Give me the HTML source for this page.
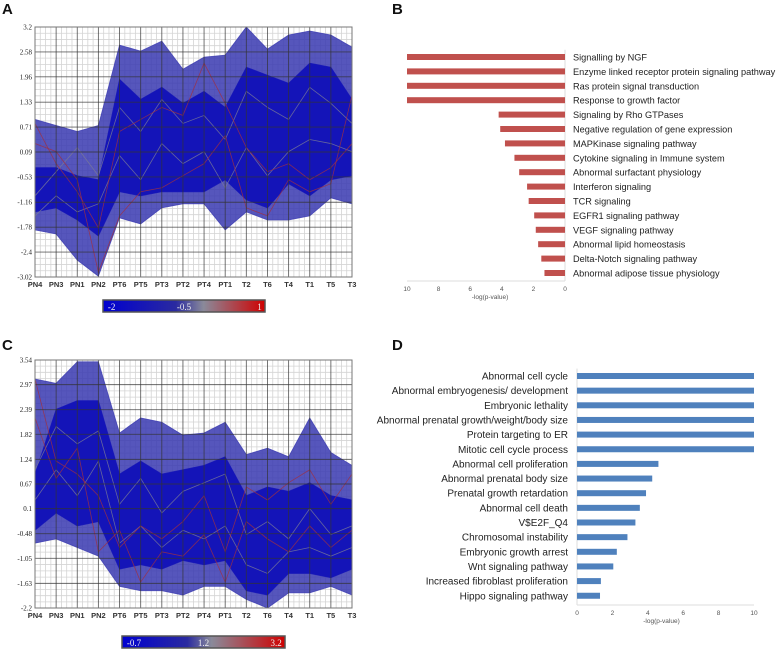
<!DOCTYPE html>
<html><head><meta charset="utf-8">
<style>
html,body{margin:0;padding:0;background:#fff;}
svg{display:block;font-family:"Liberation Sans",Arial,sans-serif;}
</style></head>
<body>
<svg id="fig" width="778" height="650" viewBox="0 0 778 650" xmlns="http://www.w3.org/2000/svg">
<defs>
<linearGradient id="cbA" x1="0" x2="1" y1="0" y2="0"><stop offset="0" stop-color="#0000d0"/><stop offset="0.45" stop-color="#2a2aa0"/><stop offset="0.62" stop-color="#8a8a9a"/><stop offset="1" stop-color="#d00000"/></linearGradient>
<linearGradient id="cbC" x1="0" x2="1" y1="0" y2="0"><stop offset="0" stop-color="#0000d0"/><stop offset="0.4" stop-color="#2a2aa0"/><stop offset="0.55" stop-color="#8a8a9a"/><stop offset="1" stop-color="#d00000"/></linearGradient>
</defs>
<text x="2" y="14" font-size="15" font-weight="bold" fill="#111">A</text>
<text x="392" y="14" font-size="15" font-weight="bold" fill="#111">B</text>
<text x="2" y="350" font-size="15" font-weight="bold" fill="#111">C</text>
<text x="392" y="350" font-size="15" font-weight="bold" fill="#111">D</text>
<g id="pA"></g>
<g id="pB"></g>
<g id="pC"></g>
<g id="pD"></g>
</svg>
<script>
const NS="http://www.w3.org/2000/svg";
function mk(p,t,a){const e=document.createElementNS(NS,t);for(const k in a)e.setAttribute(k,a[k]);p.appendChild(e);return e;}

const samples=["PN4","PN3","PN1","PN2","PT6","PT5","PT3","PT2","PT4","PT1","T2","T6","T4","T1","T5","T3"];
// Panel A
const ticksA=[3.2,2.58,1.96,1.33,0.71,0.09,-0.53,-1.16,-1.78,-2.4,-3.02];
const outerUpA=[0.9,0.75,0.6,0.75,2.75,2.6,2.85,2.15,2.45,2.5,3.2,2.65,3.0,3.1,3.0,2.7];
const outerLoA=[-1.85,-1.95,-2.6,-3.0,-1.55,-1.7,-1.3,-1.2,-1.2,-1.85,-1.4,-1.6,-1.6,-1.5,-1.05,-1.2];
const innerUpA=[-0.3,-0.3,-0.5,-0.6,1.9,1.4,1.7,1.3,1.6,1.2,2.2,2.0,1.8,2.3,2.2,1.4];
const innerLoA=[-1.4,-1.3,-1.6,-2.0,-0.9,-1.0,-0.9,-0.9,-0.9,-0.6,-1.1,-1.3,-0.7,-1.0,-0.6,-0.5];
const redA1=[0.8,-0.2,-0.9,-1.8,0.6,0.9,1.2,1.0,2.3,1.3,0.2,-0.4,-0.2,-0.6,-0.3,0.3];
const redA2=[0.3,0.1,-0.6,-2.9,-1.5,-0.9,-0.8,-0.5,-0.2,0.5,-1.3,-1.5,-0.6,-0.9,-0.7,1.5];
const grayA1=[-1.0,-0.4,0.2,-0.5,1.2,0.6,1.4,0.8,1.0,0.4,1.6,1.2,0.9,1.7,1.3,0.8];
const grayA2=[-1.5,-1.0,-1.4,-1.2,0.0,-0.6,0.3,-0.2,0.1,-0.8,0.2,-0.5,0.1,0.4,0.3,0.1];
// Panel C
const ticksC=[3.54,2.97,2.39,1.82,1.24,0.67,0.1,-0.48,-1.05,-1.63,-2.2];
const outerUpC=[3.1,3.0,3.5,3.5,1.85,2.2,2.1,1.8,1.85,2.1,1.35,1.5,1.3,2.2,1.4,1.1];
const outerLoC=[-0.7,-0.6,-0.8,-1.0,-1.7,-1.8,-1.8,-1.9,-1.7,-1.7,-2.0,-2.2,-1.85,-1.85,-1.7,-1.9];
const innerUpC=[0.9,2.4,2.6,2.6,0.9,1.2,0.9,1.0,1.1,1.3,0.4,0.6,0.5,0.7,0.4,0.3];
const innerLoC=[-0.4,0.0,-0.3,-0.2,-1.3,-1.2,-1.3,-1.1,-1.2,-1.1,-1.8,-1.9,-1.4,-1.4,-1.5,-1.3];
const redC1=[3.1,1.2,0.9,0.4,-0.8,-0.3,-0.6,-0.2,0.4,-0.9,0.6,0.3,0.7,1.0,0.2,0.9];
const redC2=[2.2,0.8,1.5,-0.9,-0.4,-1.6,-0.9,-1.0,-0.5,-1.6,-0.2,-0.6,-0.9,-0.3,-0.8,-0.4];
const grayC1=[1.0,2.0,1.6,1.9,0.2,0.8,0.0,0.5,0.7,0.9,-0.5,-0.2,-0.6,0.1,-0.5,-0.3];
const grayC2=[0.3,1.0,0.4,1.2,-0.7,-0.3,-0.8,-0.4,-0.6,-0.3,-1.2,-1.4,-0.9,-0.8,-1.0,-0.8];

function parallel(g,ticks,outU,outL,inU,inL,reds,grays,top,bot,cb,cbId,cbLabels){
  const x0=35,x1=352,n=samples.length;
  const X=i=>x0+(x1-x0)*i/(n-1);
  const vmax=ticks[0],vmin=ticks[ticks.length-1];
  const Y=v=>top+(vmax-v)/(vmax-vmin)*(bot-top);
  mk(g,"rect",{x:x0,y:top,width:x1-x0,height:bot-top,fill:"#fff"});
  for(let i=0;i<n-1;i++)for(let k=1;k<4;k++){const xx=X(i)+(X(i+1)-X(i))*k/4;mk(g,"line",{x1:xx,x2:xx,y1:top,y2:bot,stroke:"#d4d4d4","stroke-width":0.8});}
  for(let i=0;i<ticks.length-1;i++)for(let k=1;k<4;k++){const yy=Y(ticks[i])+(Y(ticks[i+1])-Y(ticks[i]))*k/4;mk(g,"line",{x1:x0,x2:x1,y1:yy,y2:yy,stroke:"#d4d4d4","stroke-width":0.8});}
  const poly=(up,lo,fill,op)=>{let pts=up.map((v,i)=>X(i)+","+Y(v));for(let i=n-1;i>=0;i--)pts.push(X(i)+","+Y(lo[i]));const p=mk(g,"polygon",{points:pts.join(" "),fill:fill,"fill-opacity":op,stroke:fill,"stroke-width":0.8,"stroke-opacity":0.8});return p;};
  const o=poly(outU,outL,"#3838b0",0.85);
  
  
  const inn=poly(inU,inL,"#1414b8",1);
  
  
  const line=(arr,col,w)=>mk(g,"polyline",{points:arr.map((v,i)=>X(i)+","+Y(v)).join(" "),fill:"none",stroke:col,"stroke-width":w,"stroke-opacity":0.8});
  grays.forEach(a=>{const l=line(a,"#7a7a96",0.8);});
  reds.forEach(a=>{const l=line(a,"#a03040",0.8);});
  ticks.forEach(t=>mk(g,"line",{x1:x0,x2:x1,y1:Y(t),y2:Y(t),stroke:"#333","stroke-width":0.9,"stroke-opacity":0.75}));
  samples.forEach((s,i)=>mk(g,"line",{x1:X(i),x2:X(i),y1:top,y2:bot,stroke:"#333","stroke-width":0.9,"stroke-opacity":0.75}));
  mk(g,"rect",{x:x0,y:top,width:x1-x0,height:bot-top,fill:"none",stroke:"#777","stroke-width":1});
  ticks.forEach(t=>{const e=mk(g,"text",{x:x0-3,y:Y(t)+2.5,"text-anchor":"end","font-size":7,"font-family":"Liberation Serif,serif",fill:"#222"});e.textContent=t;});
  samples.forEach((s,i)=>{const e=mk(g,"text",{x:X(i),y:bot+10,"text-anchor":"middle","font-size":7.5,"font-weight":"bold",fill:"#333"});e.textContent=s;});
  const r=mk(g,"rect",{x:cb[0],y:cb[1],width:cb[2],height:cb[3],fill:"url(#"+cbId+")",stroke:"#555","stroke-width":1.5});
  
  cbLabels.forEach(l=>{const e=mk(g,"text",{x:cb[0]+cb[2]*l[1],y:cb[1]+cb[3]-2,"text-anchor":l[2],"font-size":9,"font-family":"Liberation Serif,serif",fill:"#eee"});e.textContent=l[0];});
}
parallel(document.getElementById("pA"),ticksA,outerUpA,outerLoA,innerUpA,innerLoA,[redA1,redA2],[grayA1,grayA2],27,277,[103,300,162,12],"cbA",[["-2",0.03,"start"],["-0.5",0.5,"middle"],["1",0.98,"end"]]);
parallel(document.getElementById("pC"),ticksC,outerUpC,outerLoC,innerUpC,innerLoC,[redC1,redC2],[grayC1,grayC2],360,608,[122,636,163,12],"cbC",[["-0.7",0.03,"start"],["1.2",0.5,"middle"],["3.2",0.98,"end"]]);

// Panel B
const catsB=["Signalling by NGF","Enzyme linked receptor protein signaling pathway","Ras protein signal transduction","Response to growth factor","Signaling by Rho GTPases","Negative regulation of gene expression","MAPKinase signaling pathway","Cytokine signaling in Immune system","Abnormal surfactant physiology","Interferon signaling","TCR signaling","EGFR1 signaling pathway","VEGF signaling pathway","Abnormal lipid homeostasis","Delta-Notch signaling pathway","Abnormal adipose tissue physiology"];
const valsB=[10,10,10,10,4.2,4.1,3.8,3.2,2.9,2.4,2.3,1.95,1.85,1.7,1.5,1.3];
// Panel D
const catsD=["Abnormal cell cycle","Abnormal embryogenesis/ development","Embryonic lethality","Abnormal prenatal growth/weight/body size","Protein targeting to ER","Mitotic cell cycle process","Abnormal cell proliferation","Abnormal prenatal body size","Prenatal growth retardation","Abnormal cell death","V$E2F_Q4","Chromosomal instability","Embryonic growth arrest","Wnt signaling pathway ","Increased fibroblast proliferation","Hippo signaling pathway"];
const valsD=[10,10,10,10,10,10,4.6,4.25,3.9,3.55,3.3,2.85,2.25,2.05,1.35,1.3];
const ticksBar=[0,2,4,6,8,10];

function bars(g,cats,vals,zeroX,scale,y0,step,axisY,labelX,anchor,color,dir,fs){
  const X=v=>zeroX+dir*v*scale;
  mk(g,"line",{x1:zeroX,x2:zeroX,y1:y0-step/2,y2:axisY,stroke:"#ddd","stroke-width":1});
  mk(g,"line",{x1:X(0),x2:X(10),y1:axisY,y2:axisY,stroke:"#ddd","stroke-width":1});
  cats.forEach((c,i)=>{
    const y=y0+i*step,v=vals[i];
    const r=mk(g,"rect",{x:Math.min(X(0),X(v)),y:y-3,width:Math.abs(X(v)-X(0)),height:6,fill:color});
    
    const t=mk(g,"text",{x:labelX,y:y+3.5,"text-anchor":anchor,"font-size":fs,fill:"#222"});t.textContent=c;
    
  });
  ticksBar.forEach(tv=>{const t=mk(g,"text",{x:X(tv),y:axisY+10,"text-anchor":"middle","font-size":6.5,fill:"#555"});t.textContent=tv;});
  const tt=mk(g,"text",{x:X(5)-dir*4,y:axisY+18,"text-anchor":"middle","font-size":6.5,fill:"#555"});tt.textContent="-log(p-value)";
  
}
bars(document.getElementById("pB"),catsB,valsB,565,15.8,57,14.4,281,573,"start","#c0504d",-1,9.2);
bars(document.getElementById("pD"),catsD,valsD,577,17.7,376,14.65,605,568,"end","#4f81bd",1,10);
</script>
</body></html>
